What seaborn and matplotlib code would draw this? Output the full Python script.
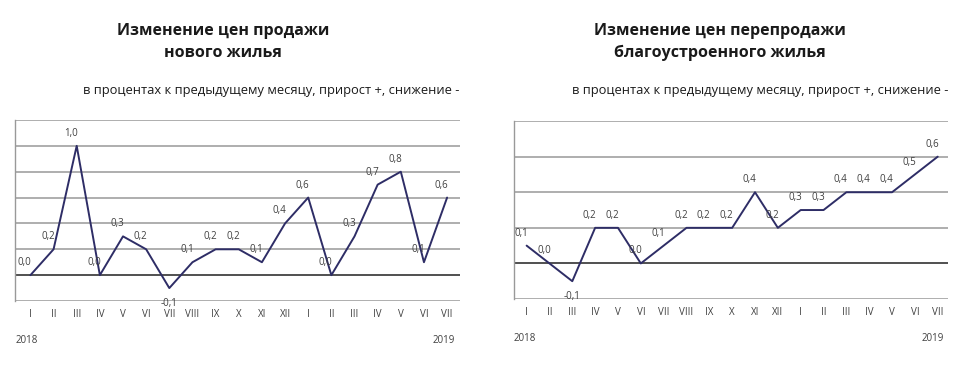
import matplotlib
matplotlib.use("Agg")
import matplotlib.pyplot as plt
import seaborn as sns
import pandas as pd

# --- Data ---
months = ["I", "II", "III", "IV", "V", "VI", "VII", "VIII", "IX", "X", "XI", "XII",
          "I", "II", "III", "IV", "V", "VI", "VII"]
new_housing = [0.0, 0.2, 1.0, 0.0, 0.3, 0.2, -0.1, 0.1, 0.2, 0.2, 0.1, 0.4,
               0.6, 0.0, 0.3, 0.7, 0.8, 0.1, 0.6]
resale_housing = [0.1, 0.0, -0.1, 0.2, 0.2, 0.0, 0.1, 0.2, 0.2, 0.2, 0.4, 0.2,
                  0.3, 0.3, 0.4, 0.4, 0.4, 0.5, 0.6]
titles = ["Изменение цен продажи\nнового жилья",
          "Изменение цен перепродажи\nблагоустроенного жилья"]
subtitle = "в процентах к предыдущему месяцу, прирост +, снижение -"
year_start, year_end = "2018", "2019"

sns.set_style("white")
plt.rcParams['font.family'] = ['Open Sans', 'DejaVu Sans']

line_color = "#2e2d66"
grid_color = "#999999"
text_color = "#404040"

fig = plt.figure(figsize=(9.6, 3.68), dpi=100)
axes = [fig.add_axes([0.016, 0.182, 0.463, 0.492]),
        fig.add_axes([0.535, 0.1875, 0.4525, 0.4835])]
series = [new_housing, resale_housing]
ylims = [(-0.2, 1.2), (-0.2, 0.8)]
xlims = [(-0.65, 18.55), (-0.57, 18.45)]
title_x = [0.232, 0.75]

for ax, vals, ylim, xlim, tx, title in zip(axes, series, ylims, xlims, title_x, titles):
    df = pd.DataFrame({"pos": range(len(months)), "val": vals})
    sns.lineplot(data=df, x="pos", y="val", ax=ax, color=line_color, linewidth=1.4)
    ax.set_ylim(*ylim)
    ax.set_xlim(*xlim)
    ticks = [round(ylim[0] + 0.2 * i, 1) for i in range(int(round((ylim[1] - ylim[0]) / 0.2)) + 1)]
    for t in ticks:
        if abs(t) < 1e-9:
            ax.axhline(t, color="#505050", linewidth=1.4, zorder=1)
        else:
            ax.axhline(t, color=grid_color, linewidth=1.1, zorder=1)
    ax.set_yticks([])
    ax.set_xticks(range(len(months)))
    ax.set_xticklabels(months, fontsize=7, color=text_color)
    ax.tick_params(axis="x", length=0, pad=6)
    ax.set_xlabel("")
    ax.set_ylabel("")
    for side in ["top", "right", "bottom"]:
        ax.spines[side].set_visible(False)
    ax.spines["left"].set_color(grid_color)
    ax.spines["left"].set_linewidth(1.0)

    for i, v in enumerate(vals):
        label = f"{v:.1f}".replace(".", ",")
        if v < 0:
            off = (0, -11)
        else:
            off = (-4, 5)
        ax.annotate(label, (i, v), xytext=off, textcoords="offset points",
                    ha="center", va="bottom" if v >= 0 else "center",
                    fontsize=7, color=text_color)

    ax.text(0.0, -0.22, year_start, transform=ax.transAxes, fontsize=7,
            color=text_color, ha="left", va="center")
    ax.text(0.99, -0.22, year_end, transform=ax.transAxes, fontsize=7,
            color=text_color, ha="right", va="center")

    fig.text(tx, 0.885, title, ha="center", va="center", fontsize=11.5,
             fontweight="bold", color="#1a1a1a", linespacing=1.5)
    fig.text(ax.get_position().x1, 0.755, subtitle, ha="right", va="center",
             fontsize=9.3, color="#1a1a1a")

fig.savefig("out.png", dpi=100, facecolor="white")
